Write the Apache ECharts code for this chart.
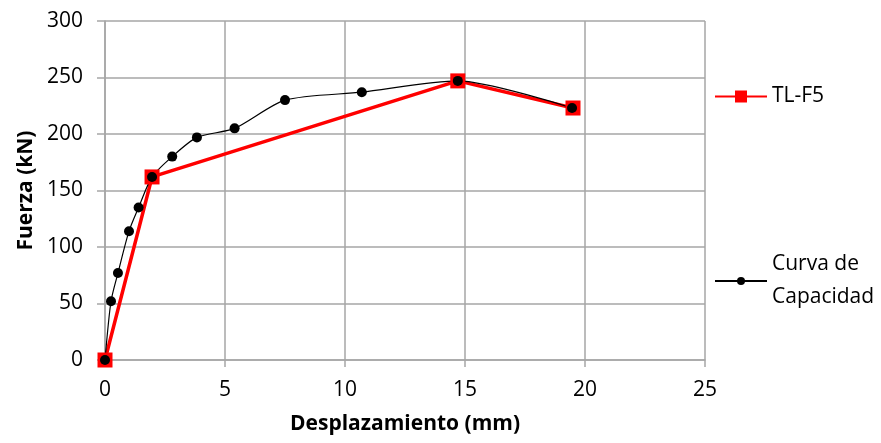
<!DOCTYPE html>
<html><head><meta charset="utf-8">
<script src="https://cdn.jsdelivr.net/npm/echarts@6/dist/echarts.min.js"></script>
<style>html,body{margin:0;padding:0;background:#fff}#c{width:881px;height:443px}</style>
</head><body><div id="c"></div>
<script>
const curvaX = [0, 0.25, 0.54, 1.0, 1.4, 1.96, 2.8, 3.83, 5.4, 7.5, 10.7, 14.7, 19.46];
const curvaY = [0, 52, 77, 114, 135, 162, 180, 197, 205, 230, 237, 247, 223];
const tlX = [0, 1.96, 14.7, 19.5];
const tlY = [0, 162, 247, 223];
const xTicks = [0, 5, 10, 15, 20, 25];
const yTicks = [0, 50, 100, 150, 200, 250, 300];

const font = '"Open Sans", sans-serif';
const chart = echarts.init(document.getElementById('c'));
chart.setOption({
  animation: false,
  grid: {left: 105, right: 176, top: 21, bottom: 83},
  xAxis: {
    type: 'value', min: xTicks[0], max: xTicks[xTicks.length-1], interval: 5,
    name: 'Desplazamiento (mm)', nameLocation: 'middle', nameGap: 54,
    nameTextStyle: {fontFamily: font, fontSize: 21, fontWeight: 'bold', color: '#000'},
    axisLine: {show: true, lineStyle: {color: '#a6a6a6', width: 1.5}},
    axisTick: {show: true, length: 7, lineStyle: {color: '#a6a6a6', width: 1.5}},
    axisLabel: {fontFamily: font, fontSize: 21, color: '#000', margin: 20},
    splitLine: {show: true, lineStyle: {color: '#a6a6a6', width: 1.5}}
  },
  yAxis: {
    type: 'value', min: yTicks[0], max: yTicks[yTicks.length-1], interval: 50,
    name: 'Fuerza (kN)', nameLocation: 'middle', nameGap: 68, nameRotate: 90,
    nameTextStyle: {fontFamily: font, fontSize: 21, fontWeight: 'bold', color: '#000'},
    axisLine: {show: true, lineStyle: {color: '#a6a6a6', width: 1.5}},
    axisTick: {show: true, length: 8, lineStyle: {color: '#a6a6a6', width: 1.5}},
    axisLabel: {fontFamily: font, fontSize: 21, color: '#000', margin: 22},
    splitLine: {show: true, lineStyle: {color: '#a6a6a6', width: 1.5}}
  },
  legend: [
    {data: ['TL-F5'], orient: 'vertical', left: 709, top: 81, itemWidth: 52, itemHeight: 15,
     textStyle: {fontFamily: font, fontSize: 21, color: '#000'}},
    {data: ['Curva de Capacidad'], orient: 'vertical', left: 709, top: 243, itemWidth: 52, itemHeight: 10,
     formatter: () => 'Curva de\nCapacidad',
     textStyle: {fontFamily: font, fontSize: 21, color: '#000', lineHeight: 33}}
  ],
  series: [
    {
      name: 'TL-F5', type: 'line',
      data: tlX.map((x, i) => [x, tlY[i]]),
      symbol: 'rect', symbolSize: 15,
      lineStyle: {color: '#ff0000', width: 3.5},
      itemStyle: {color: '#ff0000'}
    },
    {
      name: 'Curva de Capacidad', type: 'line',
      data: curvaX.map((x, i) => [x, curvaY[i]]),
      smooth: 0.25,
      symbol: 'circle', symbolSize: 10,
      lineStyle: {color: '#000', width: 1.2},
      itemStyle: {color: '#000'}
    }
  ]
});
</script></body></html>
